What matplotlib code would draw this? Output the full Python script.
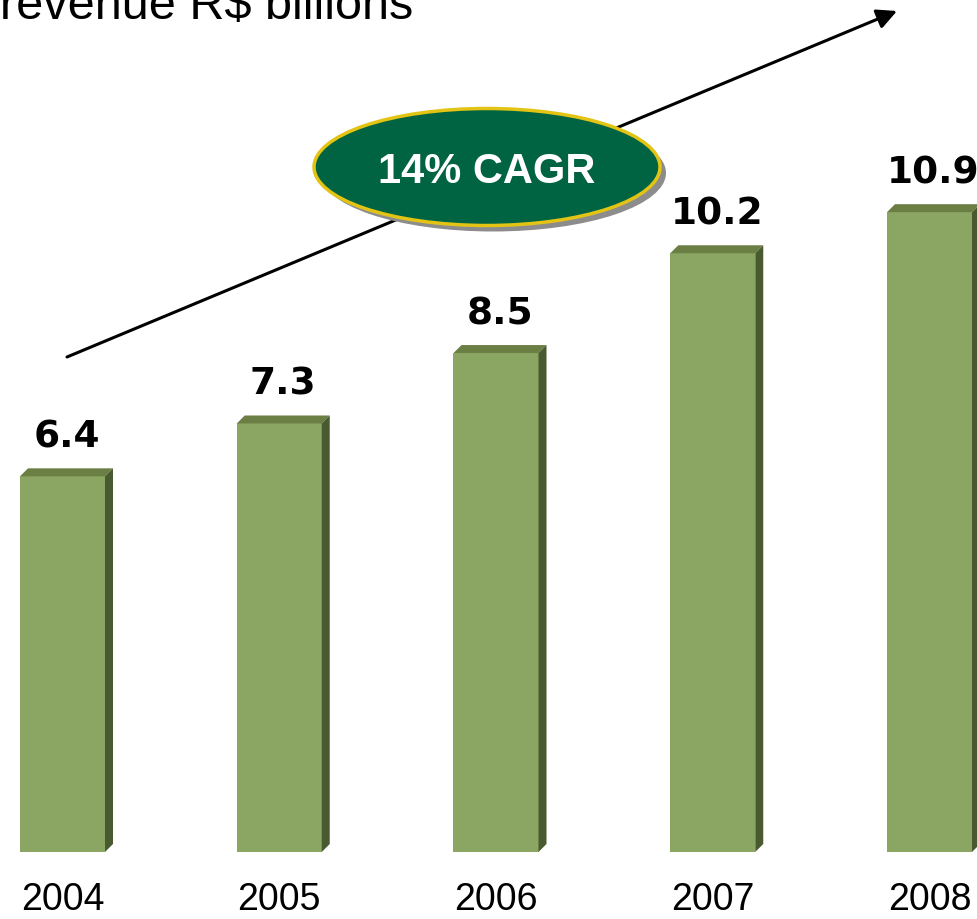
import numpy as np
import matplotlib
matplotlib.use('Agg')
import matplotlib.pyplot as plt
from matplotlib.patches import Ellipse, Polygon

# data
years = ['2004', '2005', '2006', '2007', '2008']
revenue = [6.4, 7.3, 8.5, 10.2, 10.9]
title_text = r'revenue R\$ billions'
cagr_text = '14% CAGR'

# colours
front_col = '#8BA562'
top_col = '#6B7F45'
side_col = '#4A5A30'

W, H = 978, 920
fig = plt.figure(figsize=(W / 100, H / 100), dpi=100)
ax = fig.add_axes([0, 0, 1, 1])
ax.set_axis_off()

# pixel geometry -> data limits
px_per_cat = 216.75
px_per_unit = 58.7
x0 = -62.5 / px_per_cat
ax.set_xlim(x0, x0 + W / px_per_cat)
y0 = -67 / px_per_unit
ax.set_ylim(y0, y0 + H / px_per_unit)

bw = 85 / px_per_cat
dx = 8 / px_per_cat
dy = 8 / px_per_unit

xs = np.arange(len(years))
ax.bar(xs, revenue, width=bw, color=front_col, zorder=3)
for x, v in zip(xs, revenue):
    xl, xr = x - bw / 2, x + bw / 2
    ax.add_patch(Polygon([(xl, v), (xr, v), (xr + dx, v + dy), (xl + dx, v + dy)],
                         closed=True, facecolor=top_col, edgecolor='none', zorder=3))
    ax.add_patch(Polygon([(xr, 0), (xr, v), (xr + dx, v + dy), (xr + dx, dy)],
                         closed=True, facecolor=side_col, edgecolor='none', zorder=3))
    ax.text(x + dx / 2, v + 30 / px_per_unit, f'{v:.1f}', ha='center', va='baseline',
            fontsize=27, fontweight='bold', family='DejaVu Sans', color='black')
    ax.text(x, -57 / px_per_unit, years[int(x)], ha='center', va='baseline',
            fontsize=27, family='Liberation Sans', color='black')

# title (cropped at top edge)
fig.text(0.0, 1 - 19 / H, title_text, fontsize=35, family='Liberation Sans',
         ha='left', va='baseline', color='black')

# growth arrow
ax.annotate('', xy=(897, H - 12), xytext=(67, H - 358), xycoords='figure pixels',
            textcoords='figure pixels',
            arrowprops=dict(arrowstyle='-|>', lw=2.2, color='black', mutation_scale=30,
                            shrinkA=0, shrinkB=0), zorder=4)

# CAGR ellipse with shadow
cx, cy, ew, eh = 487, 168, 346, 117
shadow = Ellipse(((cx + 6) / W, 1 - (cy + 6) / H), ew / W, eh / H, transform=fig.transFigure,
                 facecolor='#8C8C8C', edgecolor='none', zorder=5)
oval = Ellipse((cx / W, 1 - cy / H), ew / W, eh / H, transform=fig.transFigure,
               facecolor='#006341', edgecolor='#E3C414', lw=2.5, zorder=6)
fig.patches.extend([shadow, oval])
fig.text(cx / W, 1 - 172 / H, cagr_text, ha='center', va='center', fontsize=30,
         fontweight='bold', family='Liberation Sans', color='white', zorder=7)

fig.savefig('out.png', dpi=100)
